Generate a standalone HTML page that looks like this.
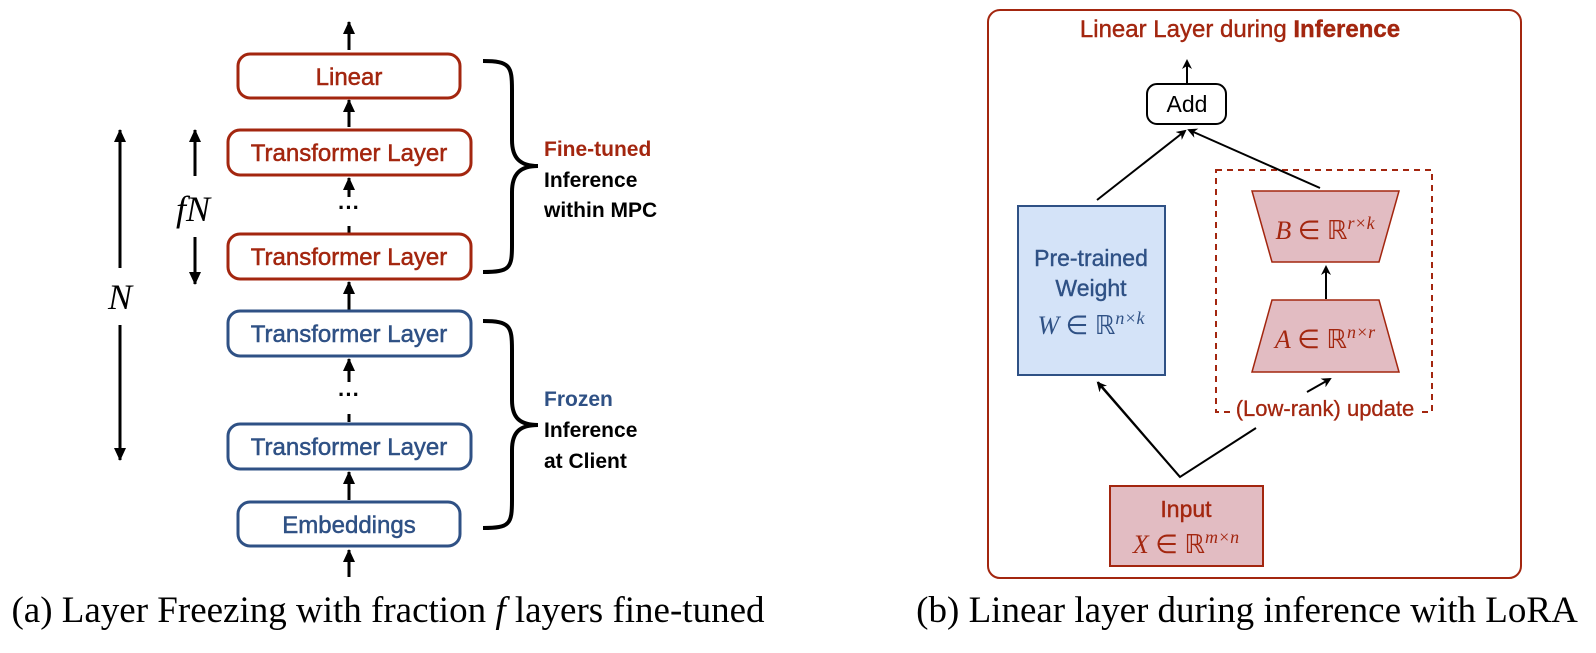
<!DOCTYPE html>
<html><head><meta charset="utf-8"><style>
body{margin:0;background:#fff;width:1596px;height:648px;overflow:hidden}
text{font-family:"Liberation Sans",sans-serif}
.s{font-family:"Liberation Serif",serif}
</style></head><body>
<svg width="1596" height="648" viewBox="0 0 1596 648" xmlns="http://www.w3.org/2000/svg">
<defs>
<marker id="ah" markerWidth="10" markerHeight="10" refX="8" refY="5" orient="auto" markerUnits="userSpaceOnUse"><path d="M0,0 L10,5 L0,10 L3,5z" fill="#000"/></marker>
<marker id="ah2" markerWidth="14" markerHeight="14" refX="12" refY="7" orient="auto" markerUnits="userSpaceOnUse"><path d="M0,1 L13,7 L0,13z" fill="#000"/></marker>
</defs>
<g stroke="#000" stroke-width="3" fill="none">
<line x1="349" y1="50" x2="349" y2="22" marker-end="url(#ah2)"/>
<line x1="349" y1="127" x2="349" y2="100" marker-end="url(#ah2)"/>
<line x1="349" y1="226" x2="349" y2="233" />
<line x1="349" y1="197" x2="349" y2="178" marker-end="url(#ah2)"/>
<line x1="349" y1="310" x2="349" y2="282" marker-end="url(#ah2)"/>
<line x1="349" y1="414" x2="349" y2="422" />
<line x1="349" y1="382" x2="349" y2="359" marker-end="url(#ah2)"/>
<line x1="349" y1="500" x2="349" y2="472" marker-end="url(#ah2)"/>
<line x1="349" y1="577" x2="349" y2="550" marker-end="url(#ah2)"/>
<line x1="120" y1="268" x2="120" y2="130" marker-end="url(#ah2)"/>
<line x1="120" y1="325" x2="120" y2="460" marker-end="url(#ah2)"/>
<line x1="195" y1="176" x2="195" y2="130" marker-end="url(#ah2)"/>
<line x1="195" y1="237" x2="195" y2="284" marker-end="url(#ah2)"/>
</g>
<text x="349" y="215" text-anchor="middle" font-size="22" font-weight="bold">···</text>
<text x="349" y="402" text-anchor="middle" font-size="22" font-weight="bold">···</text>
<g fill="#fff" stroke-width="3">
<rect x="238" y="54" width="222" height="44" rx="12" stroke="#a3260f"/>
<rect x="228" y="130" width="243" height="45" rx="12" stroke="#a3260f"/>
<rect x="228" y="234" width="243" height="45" rx="12" stroke="#a3260f"/>
<rect x="228" y="311" width="243" height="45" rx="12" stroke="#2f5185"/>
<rect x="228" y="424" width="243" height="45" rx="12" stroke="#2f5185"/>
<rect x="238" y="502" width="222" height="44" rx="12" stroke="#2f5185"/>
</g>
<g font-size="24" text-anchor="middle" stroke-width="0.5">
<text x="349" y="85" fill="#a3260f" stroke="#a3260f">Linear</text>
<text x="349" y="161" fill="#a3260f" stroke="#a3260f">Transformer Layer</text>
<text x="349" y="265" fill="#a3260f" stroke="#a3260f">Transformer Layer</text>
<text x="349" y="342" fill="#2f5185" stroke="#2f5185">Transformer Layer</text>
<text x="349" y="455" fill="#2f5185" stroke="#2f5185">Transformer Layer</text>
<text x="349" y="533" fill="#2f5185" stroke="#2f5185">Embeddings</text>
</g>
<text x="120" y="309" class="s" font-style="italic" font-size="36" text-anchor="middle">N</text>
<text x="193" y="221" class="s" font-style="italic" font-size="36" text-anchor="middle">fN</text>
<g stroke="#000" stroke-width="4" fill="none">
<path d="M483,61 C510,61 512,66 512,90 L512,140 C512,158 520,166 538,166 C520,166 512,174 512,192 L512,245 C512,268 510,272 483,272"/>
<path d="M483,321 C510,321 512,326 512,350 L512,400 C512,418 520,425 538,425 C520,425 512,432 512,450 L512,500 C512,524 510,528 483,528"/>
</g>
<g font-size="21" font-weight="bold">
<text x="544" y="156" fill="#a3260f">Fine-tuned</text>
<text x="544" y="187">Inference</text>
<text x="544" y="217">within MPC</text>
<text x="544" y="406" fill="#2f5185">Frozen</text>
<text x="544" y="437">Inference</text>
<text x="544" y="468">at Client</text>
</g>
<text x="388" y="622" class="s" font-size="37" text-anchor="middle">(a) Layer Freezing with fraction <tspan font-style="italic">f</tspan> layers fine-tuned</text>
<text x="1247" y="622" class="s" font-size="37" text-anchor="middle">(b) Linear layer during inference with LoRA</text>

<rect x="988" y="10" width="533" height="568" rx="12" fill="none" stroke="#a3260f" stroke-width="2"/>
<text x="1240" y="37" text-anchor="middle" font-size="24" fill="#a3260f" stroke="#a3260f" stroke-width="0.4">Linear Layer during <tspan font-weight="bold">Inference</tspan></text>
<rect x="1216" y="170" width="216" height="242" fill="none" stroke="#a3260f" stroke-width="2" stroke-dasharray="6,5"/>
<g stroke="#000" stroke-width="2" fill="none">
<line x1="1187" y1="84" x2="1187" y2="61" marker-end="url(#ah)"/>
<line x1="1097" y1="200" x2="1185" y2="131" marker-end="url(#ah)"/>
<line x1="1320" y1="188" x2="1189" y2="130" marker-end="url(#ah)"/>
<line x1="1326" y1="299" x2="1326" y2="267" marker-end="url(#ah)"/>
<line x1="1307" y1="392" x2="1330" y2="379" marker-end="url(#ah)"/>
<polyline points="1256,428 1180,477 1098,382" />
<line x1="1180" y1="477" x2="1098" y2="383" marker-end="url(#ah)"/>
</g>
<rect x="1147" y="84" width="79" height="40" rx="10" fill="#fff" stroke="#000" stroke-width="2"/>
<text x="1187" y="112" text-anchor="middle" font-size="23">Add</text>
<rect x="1018" y="206" width="147" height="169" fill="#d4e3f8" stroke="#2f5185" stroke-width="2"/>
<g fill="#2f5185" text-anchor="middle" font-size="23" stroke="#2f5185" stroke-width="0.4">
<text x="1091" y="266">Pre-trained</text>
<text x="1091" y="296">Weight</text>
</g>
<text x="1091" y="334" text-anchor="middle" font-size="26" fill="#2f5185" class="s"><tspan font-style="italic">W</tspan> ∈ ℝ<tspan font-size="18" dy="-10" font-style="italic">n×k</tspan></text>
<polygon points="1252,191 1399,191 1379,262 1272,262" fill="#e2bcc2" stroke="#a3260f" stroke-width="1.5"/>
<polygon points="1272,300 1379,300 1399,372 1252,372" fill="#e2bcc2" stroke="#a3260f" stroke-width="1.5"/>
<text x="1325" y="239" text-anchor="middle" font-size="26" fill="#a3260f" class="s"><tspan font-style="italic">B</tspan> ∈ ℝ<tspan font-size="18" dy="-10" font-style="italic">r×k</tspan></text>
<text x="1325" y="348" text-anchor="middle" font-size="26" fill="#a3260f" class="s"><tspan font-style="italic">A</tspan> ∈ ℝ<tspan font-size="18" dy="-10" font-style="italic">n×r</tspan></text>
<rect x="1233" y="396" width="184" height="28" fill="#fff"/>
<text x="1325" y="416" text-anchor="middle" font-size="22" fill="#a3260f" stroke="#a3260f" stroke-width="0.3">(Low-rank) update</text>
<rect x="1110" y="486" width="153" height="80" fill="#e2bcc2" stroke="#a3260f" stroke-width="2"/>
<text x="1186" y="517" text-anchor="middle" font-size="23" fill="#a3260f" stroke="#a3260f" stroke-width="0.4">Input</text>
<text x="1186" y="553" text-anchor="middle" font-size="26" fill="#a3260f" class="s"><tspan font-style="italic">X</tspan> ∈ ℝ<tspan font-size="18" dy="-10" font-style="italic">m×n</tspan></text>
</svg>
</body></html>
